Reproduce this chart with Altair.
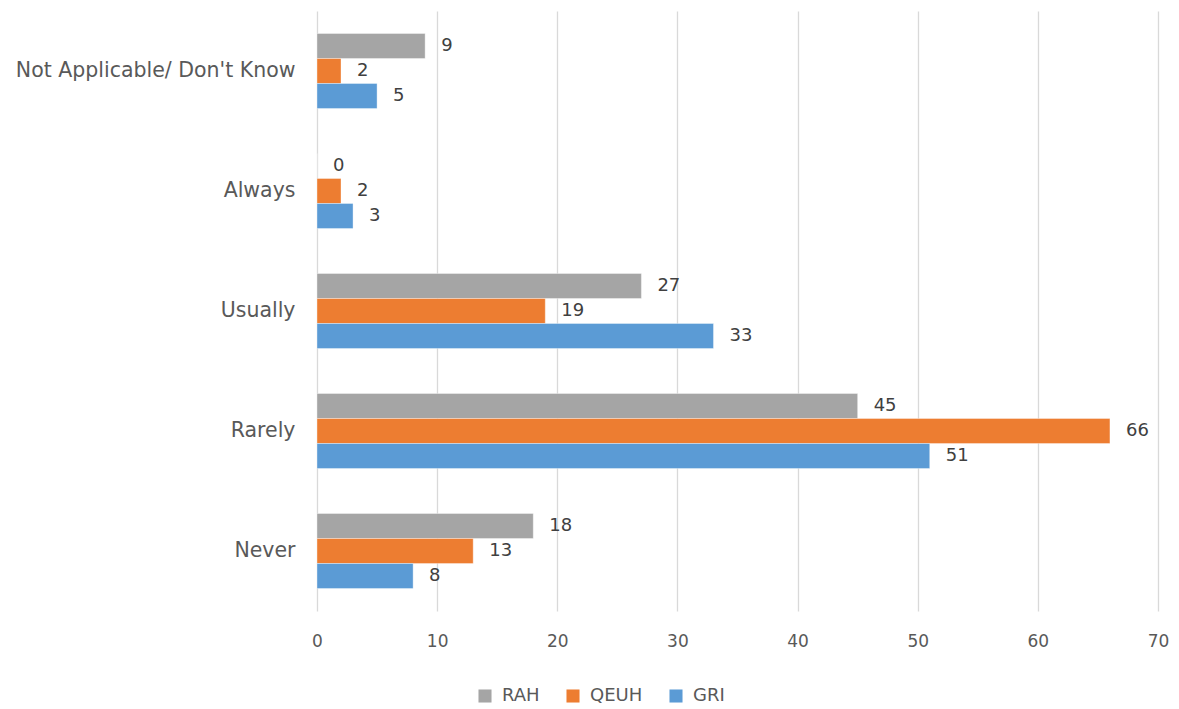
import altair as alt
import pandas as pd

categories = ["Not Applicable/ Don't Know", "Always", "Usually", "Rarely", "Never"]
series = ["RAH", "QEUH", "GRI"]
rah = [9, 0, 27, 45, 18]
qeuh = [2, 2, 19, 66, 13]
gri = [5, 3, 33, 51, 8]
colors = ["#A5A5A5", "#ED7D31", "#5B9BD5"]

rows = []
for name, vals in zip(series, [rah, qeuh, gri]):
    for cat, v in zip(categories, vals):
        rows.append({"category": cat, "series": name, "value": v})
df = pd.DataFrame(rows)

font = "DejaVu Sans"
label_color = "#595959"

y_enc = alt.Y(
    "category:N",
    sort=categories,
    title=None,
    scale=alt.Scale(paddingInner=0.375, paddingOuter=0.1875),
    axis=alt.Axis(
        domain=False, ticks=False, labelFontSize=20.5, labelColor=label_color,
        labelFont=font, labelPadding=22, labelLimit=400,
    ),
)
y_off = alt.YOffset("series:N", sort=series, scale=alt.Scale(paddingInner=0, paddingOuter=0))
x_enc = alt.X(
    "value:Q",
    title=None,
    scale=alt.Scale(domain=[0, 70], nice=False),
    axis=alt.Axis(
        values=list(range(0, 71, 10)), domain=False, ticks=False,
        gridColor="#D9D9D9", gridWidth=1.3, labelFontSize=17,
        labelColor=label_color, labelFont=font, labelPadding=22,
        labelFlush=False, labelOverlap=False,
    ),
)

bars = alt.Chart(df).mark_bar(stroke="white", strokeWidth=0.6, strokeOpacity=0.6).encode(
    x=x_enc,
    y=y_enc,
    yOffset=y_off,
    color=alt.Color(
        "series:N",
        sort=series,
        scale=alt.Scale(domain=series, range=colors),
        legend=alt.Legend(
            title=None, orient="none", direction="horizontal",
            legendX=159, legendY=676, symbolType="square", symbolSize=170,
            symbolStrokeWidth=0, labelFontSize=18, labelColor=label_color,
            labelFont=font, columnPadding=24, labelOffset=8,
        ),
    ),
)

labels = alt.Chart(df).mark_text(
    align="left", baseline="middle", dx=16, fontSize=18, color="#404040", font=font
).encode(
    x="value:Q",
    y=alt.Y("category:N", sort=categories),
    yOffset=alt.YOffset("series:N", sort=series),
    text="value:Q",
)

chart = (
    alt.layer(bars, labels)
    .properties(
        width=841, height=600,
        autosize=alt.AutoSizeParams(type="none"),
        padding={"left": 317, "top": 11, "right": 21, "bottom": 98},
        background="white",
    )
    .configure_view(stroke=None)
)

chart.save("out.html", embed_options={"renderer": "svg", "actions": False})
